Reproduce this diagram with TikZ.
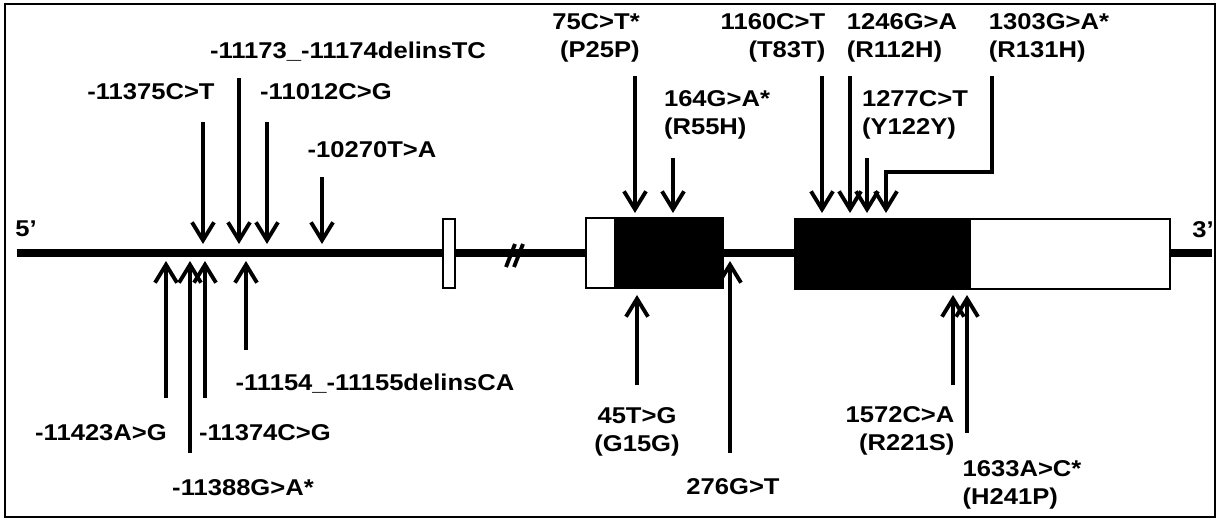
\documentclass[tikz,border=0pt]{standalone}
\usepackage{fontspec}
\newfontfamily\lblfont{Liberation Sans}[FakeStretch=1.12]
\usetikzlibrary{arrows.meta}

\begin{document}
\begin{tikzpicture}[
  x=0.02cm, y=-0.02cm,
  lbl/.style={font=\lblfont\bfseries\fontsize{13}{15.9}\selectfont, align=center, inner sep=0pt},
  lblr/.style={lbl, align=right},
  lbll/.style={lbl, align=left},
  gene/.style={line width=4.5pt},
  utr/.style={draw, line width=1.5pt, fill=white},
  cds/.style={utr, fill=black},
  mut/.style={-{Straight Barb[length=3.6mm, width=4.4mm]}, line width=2.2pt},
]
  \useasboundingbox (0,0) rectangle (1219,520);
  \draw[line width=1.6pt] (5,4) rectangle (1215,517);

  % gene backbone and exons
  \coordinate (five)  at (17,253);
  \coordinate (three) at (1212,253);
  \draw[gene] (five) -- (three);
  \draw[line width=2.2pt] (506,267) -- (515,244) (514,267) -- (523,244);

  \draw[utr] (443,219) rectangle (455,288);
  \draw[utr] (586,218) rectangle (615,288);
  \draw[cds] (615,218) rectangle (723,288);
  \draw[cds] (795,219) rectangle (970,289);
  \draw[utr] (970,219) rectangle (1170,289);

  \node[lbl] (p5) at (26,229)   {5’};
  \node[lbl] (p3) at (1203,230) {3’};

  % variants above the gene
  \node[lbl]  (v11375) at (151,92)  {-11375C>T};
  \node[lbl]  (v11173) at (348,52)  {-11173\_-11174delinsTC};
  \node[lbl]  (v11012) at (326,92)  {-11012C>G};
  \node[lbl]  (v10270) at (372,150) {-10270T>A};
  \node[lblr] (v75)    at (596,38)  {75C>T*\\(P25P)};
  \node[lbll] (v164)   at (717,115) {164G>A*\\(R55H)};
  \node[lblr] (v1160)  at (773,38)  {1160C>T\\(T83T)};
  \node[lbll] (v1246)  at (902,38)  {1246G>A\\(R112H)};
  \node[lbll] (v1277)  at (915,115) {1277C>T\\(Y122Y)};
  \node[lbll] (v1303)  at (1049,38) {1303G>A*\\(R131H)};

  % variants below the gene
  \node[lbl]  (v11423) at (101,433)  {-11423A>G};
  \node[lbl]  (v11388) at (243,488)  {-11388G>A*};
  \node[lbl]  (v11374) at (265,433)  {-11374C>G};
  \node[lbl]  (v11154) at (375,384)  {-11154\_-11155delinsCA};
  \node[lbl]  (v45)    at (637,432)  {45T>G\\(G15G)};
  \node[lbl]  (v276)   at (733,487)  {276G>T};
  \node[lblr] (v1572)  at (900,431)  {1572C>A\\(R221S)};
  \node[lbll] (v1633)  at (1022,485) {1633A>C*\\(H241P)};

  % arrow ends
  \coordinate (t11375) at (203,122); \coordinate (h11375) at (203,244);
  \coordinate (t11173) at (239,78);  \coordinate (h11173) at (239,244);
  \coordinate (t11012) at (267,122); \coordinate (h11012) at (267,244);
  \coordinate (t10270) at (322,177); \coordinate (h10270) at (322,244);
  \coordinate (t75)    at (635,76);  \coordinate (h75)    at (635,213);
  \coordinate (t164)   at (673,158); \coordinate (h164)   at (673,213);
  \coordinate (t1160)  at (822,76);  \coordinate (h1160)  at (822,213);
  \coordinate (t1246)  at (850,76);  \coordinate (h1246)  at (850,213);
  \coordinate (t1277)  at (867,158); \coordinate (h1277)  at (867,213);
  \coordinate (t1303)  at (992,76);  \coordinate (h1303)  at (886,213);

  \coordinate (t11423) at (166,398); \coordinate (h11423) at (166,261);
  \coordinate (t11388) at (190,453); \coordinate (h11388) at (190,261);
  \coordinate (t11374) at (205,398); \coordinate (h11374) at (205,261);
  \coordinate (t11154) at (246,350); \coordinate (h11154) at (246,261);
  \coordinate (t45)    at (637,385); \coordinate (h45)    at (637,295);
  \coordinate (t276)   at (730,453); \coordinate (h276)   at (730,261);
  \coordinate (t1572)  at (953,385); \coordinate (h1572)  at (953,295);
  \coordinate (t1633)  at (967,433); \coordinate (h1633)  at (967,295);

  \draw[mut] (t11375) -- (h11375);
  \draw[mut] (t11173) -- (h11173);
  \draw[mut] (t11012) -- (h11012);
  \draw[mut] (t10270) -- (h10270);
  \draw[mut] (t75) -- (h75);
  \draw[mut] (t164) -- (h164);
  \draw[mut] (t1160) -- (h1160);
  \draw[mut] (t1246) -- (h1246);
  \draw[mut] (t1277) -- (h1277);
  \draw[mut] (t1303) -- ++(0,96) -| (h1303);

  \draw[mut] (t11423) -- (h11423);
  \draw[mut] (t11388) -- (h11388);
  \draw[mut] (t11374) -- (h11374);
  \draw[mut] (t11154) -- (h11154);
  \draw[mut] (t45) -- (h45);
  \draw[mut] (t276) -- (h276);
  \draw[mut] (t1572) -- (h1572);
  \draw[mut] (t1633) -- (h1633);
\end{tikzpicture}
\end{document}
